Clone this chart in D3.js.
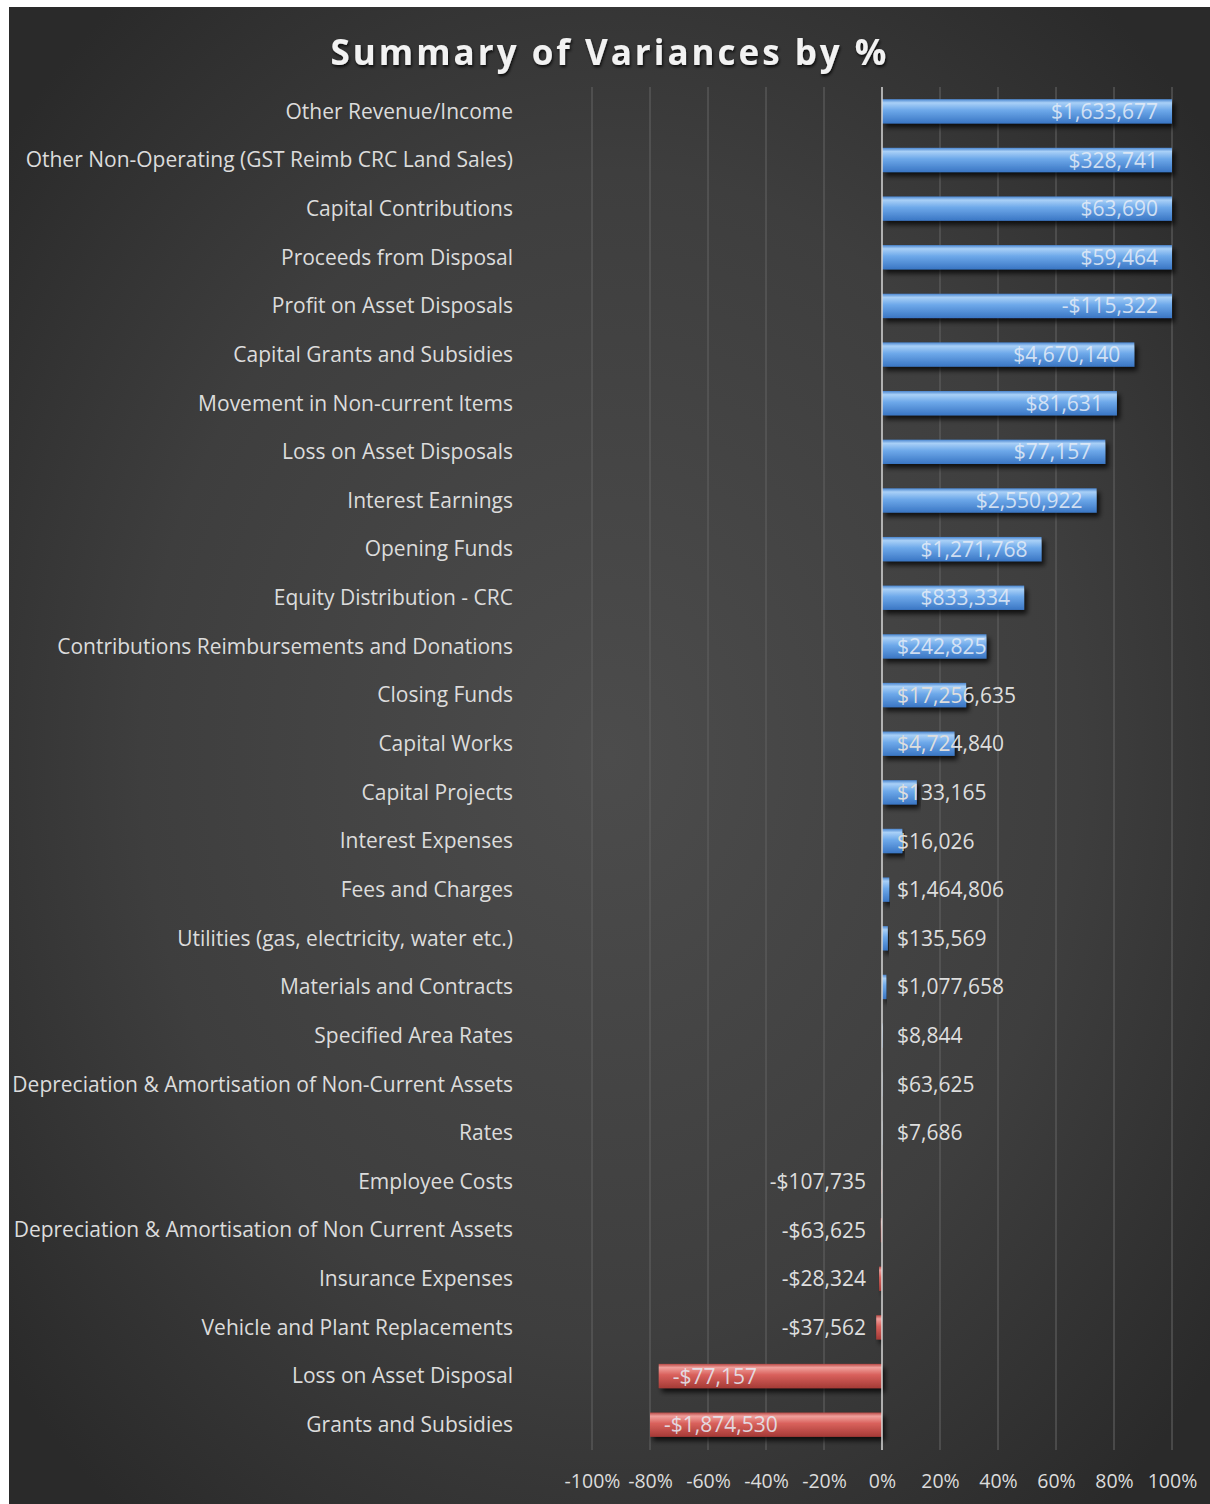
<!doctype html>
<html>
<head>
<style>
    body { margin: 0; background: #ffffff; }
    .cat { fill: #dcdcdc; font-family: "Open Sans", sans-serif; font-size: 21px; }
    .val { font-family: "Open Sans", sans-serif; font-size: 21px; }
    .tick text { fill: #dcdcdc; font-family: "Open Sans", sans-serif; font-size: 19.5px; }
</style>
</head>
<body>
<div id="chart"></div>
<script src="https://cdn.jsdelivr.net/npm/d3@7"></script>
<script>

// categories top to bottom
var categories = [
    "Other Revenue/Income",
    "Other Non-Operating (GST Reimb CRC Land Sales)",
    "Capital Contributions",
    "Proceeds from Disposal",
    "Profit on Asset Disposals",
    "Capital Grants and Subsidies",
    "Movement in Non-current Items",
    "Loss on Asset Disposals",
    "Interest Earnings",
    "Opening Funds",
    "Equity Distribution - CRC",
    "Contributions Reimbursements and Donations",
    "Closing Funds",
    "Capital Works",
    "Capital Projects",
    "Interest Expenses",
    "Fees and Charges",
    "Utilities (gas, electricity, water etc.)",
    "Materials and Contracts",
    "Specified Area Rates",
    "Depreciation & Amortisation of Non-Current Assets",
    "Rates",
    "Employee Costs",
    "Depreciation & Amortisation of Non Current Assets",
    "Insurance Expenses",
    "Vehicle and Plant Replacements",
    "Loss on Asset Disposal",
    "Grants and Subsidies"
];

// variance as a fraction (bar length)
var variancePct = [
    1.00, 1.00, 1.00, 1.00, 1.00, 0.87, 0.81, 0.77, 0.74, 0.55,
    0.49, 0.36, 0.29, 0.25, 0.12, 0.07, 0.025, 0.02, 0.015, 0.002,
    0.001, 0.001, -0.002, -0.004, -0.01, -0.02, -0.77, -0.80
];

// dollar labels
var varianceLabels = [
    "$1,633,677", "$328,741", "$63,690", "$59,464", "-$115,322", "$4,670,140",
    "$81,631", "$77,157", "$2,550,922", "$1,271,768", "$833,334", "$242,825",
    "$17,256,635", "$4,724,840", "$133,165", "$16,026", "$1,464,806", "$135,569",
    "$1,077,658", "$8,844", "$63,625", "$7,686", "-$107,735", "-$63,625",
    "-$28,324", "-$37,562", "-$77,157", "-$1,874,530"
];

var tickValues = [-1, -0.8, -0.6, -0.4, -0.2, 0, 0.2, 0.4, 0.6, 0.8, 1];

var W = 1210, H = 1504;

var svg = d3.select("#chart").append("svg")
    .attr("width", W)
    .attr("height", H);

var defs = svg.append("defs");

var bg = defs.append("radialGradient").attr("id", "bg")
    .attr("cx", "50%").attr("cy", "50%").attr("r", "65%");
bg.append("stop").attr("offset", "0%").attr("stop-color", "#4c4c4c");
bg.append("stop").attr("offset", "60%").attr("stop-color", "#3e3e3e");
bg.append("stop").attr("offset", "100%").attr("stop-color", "#2a2a2a");

var blue = defs.append("linearGradient").attr("id", "blue")
    .attr("x1", 0).attr("y1", 0).attr("x2", 0).attr("y2", 1);
blue.append("stop").attr("offset", "0%").attr("stop-color", "#4a86d0");
blue.append("stop").attr("offset", "15%").attr("stop-color", "#a9d0f7");
blue.append("stop").attr("offset", "45%").attr("stop-color", "#6ea9ea");
blue.append("stop").attr("offset", "100%").attr("stop-color", "#3a76c4");

var red = defs.append("linearGradient").attr("id", "red")
    .attr("x1", 0).attr("y1", 0).attr("x2", 0).attr("y2", 1);
red.append("stop").attr("offset", "0%").attr("stop-color", "#b84a46");
red.append("stop").attr("offset", "15%").attr("stop-color", "#f0a09c");
red.append("stop").attr("offset", "45%").attr("stop-color", "#d9615c");
red.append("stop").attr("offset", "100%").attr("stop-color", "#a53a36");

var shadow = defs.append("filter").attr("id", "shadow")
    .attr("x", "-5%").attr("y", "-30%").attr("width", "115%").attr("height", "190%");
shadow.append("feDropShadow")
    .attr("dx", 3).attr("dy", 4).attr("stdDeviation", 2.5)
    .attr("flood-color", "#000").attr("flood-opacity", 0.75);

var tshadow = defs.append("filter").attr("id", "tshadow");
tshadow.append("feDropShadow")
    .attr("dx", 1).attr("dy", 2).attr("stdDeviation", 1.5)
    .attr("flood-color", "#000").attr("flood-opacity", 0.8);

svg.append("rect")
    .attr("x", 9).attr("y", 7)
    .attr("width", W - 9).attr("height", H - 7)
    .attr("fill", "url(#bg)");

// title
svg.append("text")
    .attr("x", 610)
    .attr("y", 65)
    .attr("text-anchor", "middle")
    .attr("fill", "#f2f2f2")
    .attr("font-family", "Open Sans, sans-serif")
    .attr("font-weight", "bold")
    .attr("font-size", "35px")
    .attr("letter-spacing", "3px")
    .attr("filter", "url(#tshadow)")
    .text("Summary of Variances by %");

//scales
var x = d3.scaleLinear()
    .domain([-1, 1])
    .range([592, 1172]);

var y = d3.scaleBand()
    .domain(categories)
    .range([87, 1449])
    .paddingInner(0.5)
    .paddingOuter(0.25);

// gridlines
svg.append("g")
    .selectAll("line")
    .data(tickValues.filter(function(d) { return d !== 0; }))
    .enter().append("line")
    .attr("x1", function(d) { return x(d); })
    .attr("x2", function(d) { return x(d); })
    .attr("y1", 87)
    .attr("y2", 1450)
    .attr("stroke", "#5e5e5e")
    .attr("stroke-width", 1.2);

// x axis
var xAxis = svg.append("g")
    .attr("transform", "translate(0,1450)")
    .call(d3.axisBottom(x)
        .tickValues(tickValues)
        .tickSize(0)
        .tickPadding(24)
        .tickFormat(function(d) { return Math.round(d * 100) + "%"; }));
xAxis.select(".domain").remove();

// category labels
svg.append("g")
    .selectAll("text")
    .data(categories)
    .enter().append("text")
    .attr("class", "cat")
    .attr("x", 513)
    .attr("y", function(d) { return y(d) + y.bandwidth() / 2; })
    .attr("dy", "0.35em")
    .attr("text-anchor", "end")
    .text(function(d) { return d; });

// bars
svg.append("g")
    .selectAll("rect")
    .data(variancePct)
    .enter().append("rect")
    .attr("x", function(d) { return Math.min(x(0), x(d)); })
    .attr("y", function(d, i) { return y(categories[i]); })
    .attr("width", function(d) { return Math.abs(x(d) - x(0)); })
    .attr("height", y.bandwidth())
    .attr("fill", function(d) { return d < 0 ? "url(#red)" : "url(#blue)"; })
    .attr("filter", "url(#shadow)");

// zero line
svg.append("line")
    .attr("x1", x(0)).attr("x2", x(0))
    .attr("y1", 87).attr("y2", 1450)
    .attr("stroke", "#d8d8d8")
    .attr("stroke-width", 1.5);

// value labels
var labels = svg.append("g")
    .selectAll("text")
    .data(variancePct)
    .enter().append("text")
    .attr("class", "val")
    .attr("y", function(d, i) { return y(categories[i]) + y.bandwidth() / 2; })
    .attr("dy", "0.36em")
    .attr("fill", function(d) { return Math.abs(d) > 0.3 ? "#e6edf7" : "#dedede"; })
    .attr("fill-opacity", function(d) { return Math.abs(d) > 0.3 ? 0.85 : 1; })
    .text(function(d, i) { return varianceLabels[i]; });

labels.each(function(d) {
    var w = this.getComputedTextLength();
    var px;
    if (d >= 0) {
        px = Math.max(x(0) + 15, x(d) - 14 - w);
    } else {
        px = Math.min(x(d) + 14, x(0) - 16 - w);
    }
    d3.select(this).attr("x", px);
});

</script>
</body>
</html>
